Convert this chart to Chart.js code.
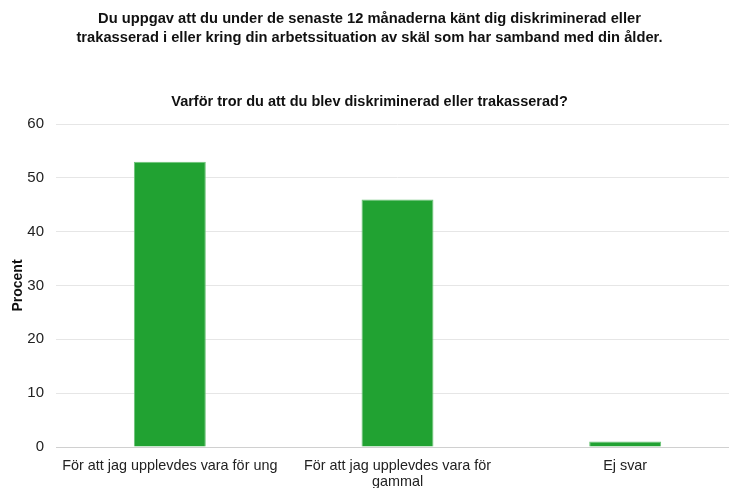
<!DOCTYPE html>
<html>
<head>
<meta charset="utf-8">
<script src="https://cdn.jsdelivr.net/npm/chart.js@4/dist/chart.umd.min.js"></script>
<style>
  html, body { margin: 0; padding: 0; background: #fff; overflow: hidden; }
  #wrap { width: 744px; height: 488px; }
</style>
</head>
<body>
<div id="wrap"><canvas id="chart" width="744" height="488"></canvas></div>
<script>
var mainTitle = [
    'Du uppgav att du under de senaste 12 månaderna känt dig diskriminerad eller',
    'trakasserad i eller kring din arbetssituation av skäl som har samband med din ålder.'
];
var subTitle = 'Varför tror du att du blev diskriminerad eller trakasserad?';
var categories = [
    'För att jag upplevdes vara för ung',
    ['För att jag upplevdes vara för', 'gammal'],
    'Ej svar'
];
var percent = [53, 46, 1];
var yTicksMax = 60;
var yTickStep = 10;

var font = 'Arial, "Liberation Sans", sans-serif';

new Chart(document.getElementById('chart'), {
    type: 'bar',
    data: {
        labels: categories,
        datasets: [{
            label: 'Procent',
            data: percent,
            backgroundColor: '#21a232',
            borderColor: '#6cc378',
            borderWidth: 1,
            barPercentage: 0.316,
            categoryPercentage: 1
        }]
    },
    options: {
        responsive: false,
        animation: false,
        layout: { padding: { left: 0, right: 5, top: 0, bottom: 0 } },
        plugins: {
            legend: { display: false },
            tooltip: { enabled: false },
            title: {
                display: true,
                text: mainTitle,
                color: '#111',
                font: { family: font, size: 14.7, weight: 'bold', lineHeight: 1.28 },
                padding: { top: 10, bottom: 46 }
            },
            subtitle: {
                display: true,
                text: subTitle,
                color: '#111',
                font: { family: font, size: 14.5, weight: 'bold' },
                padding: { top: 0, bottom: 13 }
            }
        },
        scales: {
            x: {
                grid: { display: false, drawTicks: false },
                border: { color: '#d0d0d0', width: 1 },
                ticks: {
                    color: '#222',
                    font: { family: font, size: 14.4, lineHeight: 1.12 },
                    autoSkip: false,
                    maxRotation: 0,
                    padding: 11
                },
                afterFit: function (scale) { scale.height = 41; }
            },
            y: {
                min: 0,
                max: yTicksMax,
                grid: { color: '#e6e6e6', drawTicks: false },
                border: { display: false },
                ticks: {
                    stepSize: yTickStep,
                    color: '#222',
                    font: { family: font, size: 15 },
                    padding: 12
                },
                title: {
                    display: true,
                    text: 'Procent',
                    color: '#111',
                    font: { family: font, size: 14, weight: 'bold' },
                    padding: { top: 10, bottom: 0 }
                },
                afterFit: function (scale) { scale.width = 56; }
            }
        }
    }
});
</script>
</body>
</html>
